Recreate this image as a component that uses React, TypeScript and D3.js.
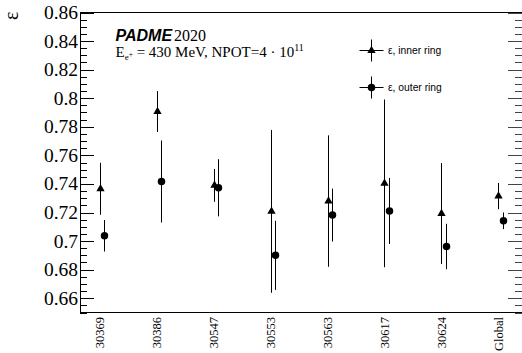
import React from "react";
import * as d3 from "d3";

const categories = ["30369", "30386", "30547", "30553", "30563", "30617", "30624", "Global"];
const innerVals = [0.7366, 0.7907, 0.739, 0.7208, 0.728, 0.7404, 0.7193, 0.7315];
const innerErrs = [0.0182, 0.0143, 0.0115, 0.057, 0.046, 0.0587, 0.0353, 0.0092];
const outerVals = [0.7037, 0.7417, 0.7373, 0.69, 0.7182, 0.7211, 0.6962, 0.7142];
const outerErrs = [0.011, 0.0287, 0.020, 0.0242, 0.0185, 0.0231, 0.0159, 0.0058];
const yTicks = [0.66, 0.68, 0.7, 0.72, 0.74, 0.76, 0.78, 0.8, 0.82, 0.84, 0.86];
const legendLabels = ["ε, inner ring", "ε, outer ring"];

const W = 522, H = 353;
const L = 80, R = 522, T = 12.5, B = 312.5;
const SERIF = "'Liberation Serif', 'Times New Roman', serif";
const SANS = "'Liberation Sans', Arial, sans-serif";

export default function App() {
  const x = d3.scaleLinear().domain([0, 8]).range([L, L + 8 * 56.9]);
  const y = d3.scaleLinear().domain([0.65, 0.86]).range([B, T]);
  const minor = d3.range(0, 43).map((i) => 0.65 + i * 0.005).filter((v) => v <= 0.8601);
  const fmt = (v: number) => d3.format("")(+v.toFixed(2));
  const tri = d3.symbol().type(d3.symbolTriangle).size(30);
  const circ = d3.symbol().type(d3.symbolCircle).size(44);

  return (
    <svg width={W} height={H} style={{ position: "absolute", left: 0, top: 0, background: "#fff" }}>
      <rect x={0} y={0} width={W} height={H} fill="#fff" />
      {/* frame */}
      <line x1={L} x2={R + 1} y1={T} y2={T} stroke="#000" />
      <line x1={L} x2={R + 1} y1={B} y2={B} stroke="#000" />
      <line x1={L + 0.5} x2={L + 0.5} y1={T} y2={B} stroke="#000" />
      {/* y ticks left & right */}
      {minor.map((v, i) => {
        const major = Math.abs(((v - 0.66) / 0.02) - Math.round((v - 0.66) / 0.02)) < 1e-6;
        const len = major ? 14 : 7;
        const yy = Math.round(y(v)) + 0.5;
        return (
          <g key={i}>
            <line x1={L} x2={L + len} y1={yy} y2={yy} stroke="#000" />
            <line x1={R - len} x2={R} y1={yy} y2={yy} stroke="#444" />
          </g>
        );
      })}
      {yTicks.map((v) => (
        <text key={v} x={78} y={y(v) + 6.5} textAnchor="end" fontFamily={SERIF} fontSize={19.5} fill="#000">
          {fmt(v)}
        </text>
      ))}
      {/* y title */}
      <g transform="translate(17.5,11.5)">
        <g transform="rotate(-90)">
          <text x={0} y={0} textAnchor="end" fontFamily={SERIF} fontSize={20} fill="#000">
            ε
          </text>
        </g>
      </g>
      {/* x labels */}
      {categories.map((c, i) => (
        <g key={c} transform={`translate(${x(i + 0.35) + 4.5},317)`}>
          <text transform="rotate(-90)" textAnchor="end" fontFamily={SERIF} fontSize={12.5} fill="#000">
            {c}
          </text>
        </g>
      ))}
      {/* inner ring */}
      {innerVals.map((v, i) => {
        const xx = Math.round(x(i + 0.35)) + 0.5;
        return (
          <g key={"i" + i}>
            <line x1={xx} x2={xx} y1={y(v + innerErrs[i])} y2={y(v - innerErrs[i])} stroke="#000" />
            <path d={tri() as string} transform={`translate(${xx},${y(v)})`} fill="#000" />
          </g>
        );
      })}
      {/* outer ring */}
      {outerVals.map((v, i) => {
        const xx = Math.round(x(i + 0.43)) + 0.5;
        return (
          <g key={"o" + i}>
            <line x1={xx} x2={xx} y1={y(v + outerErrs[i])} y2={y(v - outerErrs[i])} stroke="#000" />
            <path d={circ() as string} transform={`translate(${xx},${y(v)})`} fill="#000" />
          </g>
        );
      })}
      {/* title */}
      <text x={115.5} y={40.5} fontFamily={SANS} fontSize={16} fontWeight="bold" fontStyle="italic" fill="#000">
        PADME
        <tspan fontFamily={SERIF} fontWeight="normal" fontStyle="normal" dx={2}>
          2020
        </tspan>
      </text>
      <text x={115.5} y={57} fontFamily={SERIF} fontSize={15} fill="#000">
        E
        <tspan fontSize={9} dy={3}>e</tspan>
        <tspan fontSize={7.5} dy={-3}>+</tspan>
        <tspan dy={0}> = 430 MeV, NPOT=4 · 10</tspan>
        <tspan fontSize={10} dy={-6}>11</tspan>
      </text>
      {/* legend */}
      {legendLabels.map((lab, i) => {
        const cy = i === 0 ? 50.5 : 87.5;
        const cx = 371.5;
        return (
          <g key={lab}>
            <line x1={cx - 12} x2={cx + 12} y1={cy} y2={cy} stroke="#000" />
            <line x1={cx} x2={cx} y1={cy - 11} y2={cy + 11} stroke="#000" />
            <path d={(i === 0 ? tri() : circ()) as string} transform={`translate(${cx},${cy})`} fill="#000" />
            <text x={388} y={cy + 3.5} fontFamily={SANS} fontSize={10.3} fill="#000">
              {lab}
            </text>
          </g>
        );
      })}
    </svg>
  );
}
